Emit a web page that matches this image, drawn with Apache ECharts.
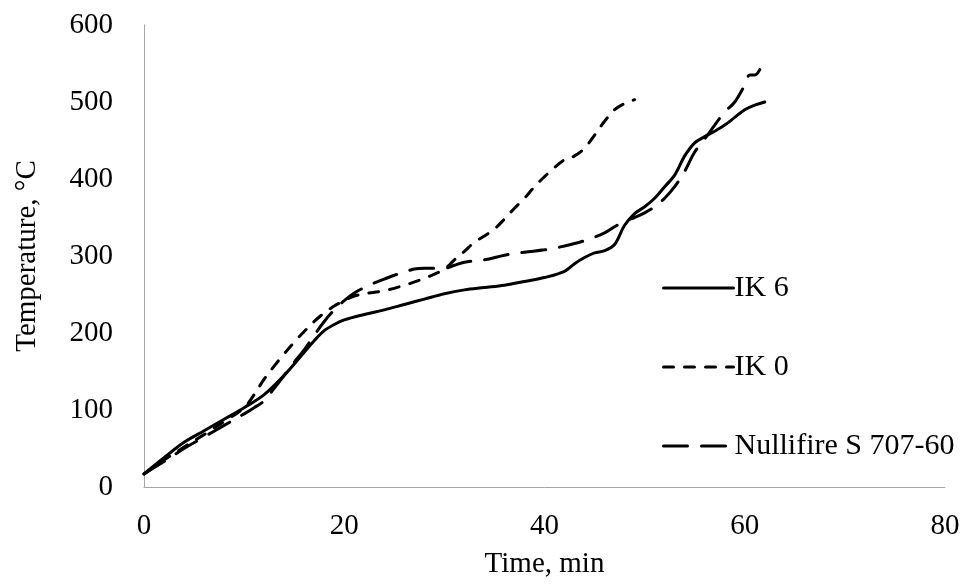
<!DOCTYPE html>
<html>
<head>
<meta charset="utf-8">
<script src="https://cdn.jsdelivr.net/npm/echarts@6/dist/echarts.min.js"></script>
<style>html,body{margin:0;padding:0;background:#fff}#c{width:971px;height:584px}</style>
</head>
<body>
<div id="c"></div>
<script>
var seriesNames = ['IK 6', 'IK 0', 'Nullifire S 707-60'];
var xTicks = [0, 20, 40, 60, 80];
var yTicks = [0, 100, 200, 300, 400, 500, 600];

var ik6 = [[0,17],[2,38],[4,58],[6,73],[8,88],[10,103],[12,120],[14,145],[16,175],[17,190],[18,203],[19,211],[20,217],[22,224],[24,230],[26,237],[28,244],[30,251],[32,256],[34,259],[36,262],[38,267],[40,272],[42,280],[43,290],[44,298],[45,304],[46,307],[47,315],[48,340],[49,355],[50,364],[51,375],[52,390],[53,405],[54,430],[55,447],[56,455],[57,462],[58,470],[59,480],[60,490],[61,496],[62,500]];

var ik0 = [[0,17],[2,35],[4,52],[6,68],[8,85],[10,103],[11,120],[12,140],[13,157],[14,173],[15,188],[16,202],[17,215],[18,226],[19,235],[20,242],[21,248],[22,251],[24,255],[26,262],[28,271],[30,283],[31,295],[32,306],[33,318],[34,326],[35,335],[36,348],[37,362],[38,375],[39,390],[40,403],[41,415],[42,425],[43,430],[44,440],[45,457],[46,475],[47,490],[48,498],[49,503]];

var nullifire = [[0,17],[2,33],[4,50],[6,65],[8,80],[10,95],[11,103],[12,112],[13,128],[14,145],[15,162],[16,178],[17,197],[18,215],[19,230],[20,242],[21,252],[22,259],[23,265],[24,270],[25,275],[26,279],[27,283],[28,284],[29,284],[30,284],[31,288],[32,292],[34,295],[36,301],[38,305],[40,308],[42,313],[44,320],[46,330],[47,338],[48,345],[49,350],[50,356],[51,364],[52,375],[53,390],[54,410],[55,435],[56,452],[57,470],[58,487],[59,500],[60,522],[60.5,535],[61,535],[61.5,542]];

var FONT = '"Liberation Serif", "Times New Roman", serif';
var chart = echarts.init(document.getElementById('c'), null, {renderer: 'canvas'});

function mkSeries(name, data, dash) {
  return {
    name: name, type: 'line', data: data, smooth: 0.35,
    showSymbol: false, symbol: 'none',
    lineStyle: {color: '#000', width: 3, type: dash, cap: 'round'},
    itemStyle: {color: '#000'},
    emphasis: {disabled: true}, animation: false
  };
}

chart.setOption({
  animation: false,
  grid: {left: 144, right: 26, top: 25, bottom: 96, containLabel: false},
  xAxis: {
    type: 'value', min: xTicks[0], max: xTicks[xTicks.length - 1], interval: 20,
    name: 'Time, min', nameLocation: 'middle', nameGap: 63,
    nameTextStyle: {fontFamily: FONT, fontSize: 29, color: '#000'},
    axisLine: {show: true, lineStyle: {color: '#a6a6a6', width: 1}},
    axisTick: {show: false}, splitLine: {show: false},
    axisLabel: {fontFamily: FONT, fontSize: 29, color: '#000', margin: 25}
  },
  yAxis: {
    type: 'value', min: yTicks[0], max: yTicks[yTicks.length - 1], interval: 100,
    name: 'Temperature, °C', nameLocation: 'middle', nameGap: 102, nameRotate: 90,
    nameTextStyle: {fontFamily: FONT, fontSize: 29, color: '#000'},
    axisLine: {show: true, lineStyle: {color: '#a6a6a6', width: 1}},
    axisTick: {show: false}, splitLine: {show: false},
    axisLabel: {fontFamily: FONT, fontSize: 29, color: '#000', margin: 31}
  },
  legend: {
    orient: 'vertical', left: 657, top: 268, itemGap: 49,
    itemWidth: 70, itemHeight: 30,
    itemStyle: {opacity: 0},
    lineStyle: {width: 3, color: '#000', cap: 'round'},
    textStyle: {fontFamily: FONT, fontSize: 30, color: '#000', padding: [0, 0, 0, -4]},
    data: seriesNames
  },
  series: [
    mkSeries(seriesNames[0], ik6, 'solid'),
    mkSeries(seriesNames[1], ik0, [10, 11]),
    mkSeries(seriesNames[2], nullifire, [24, 14])
  ]
});
</script>
</body>
</html>
